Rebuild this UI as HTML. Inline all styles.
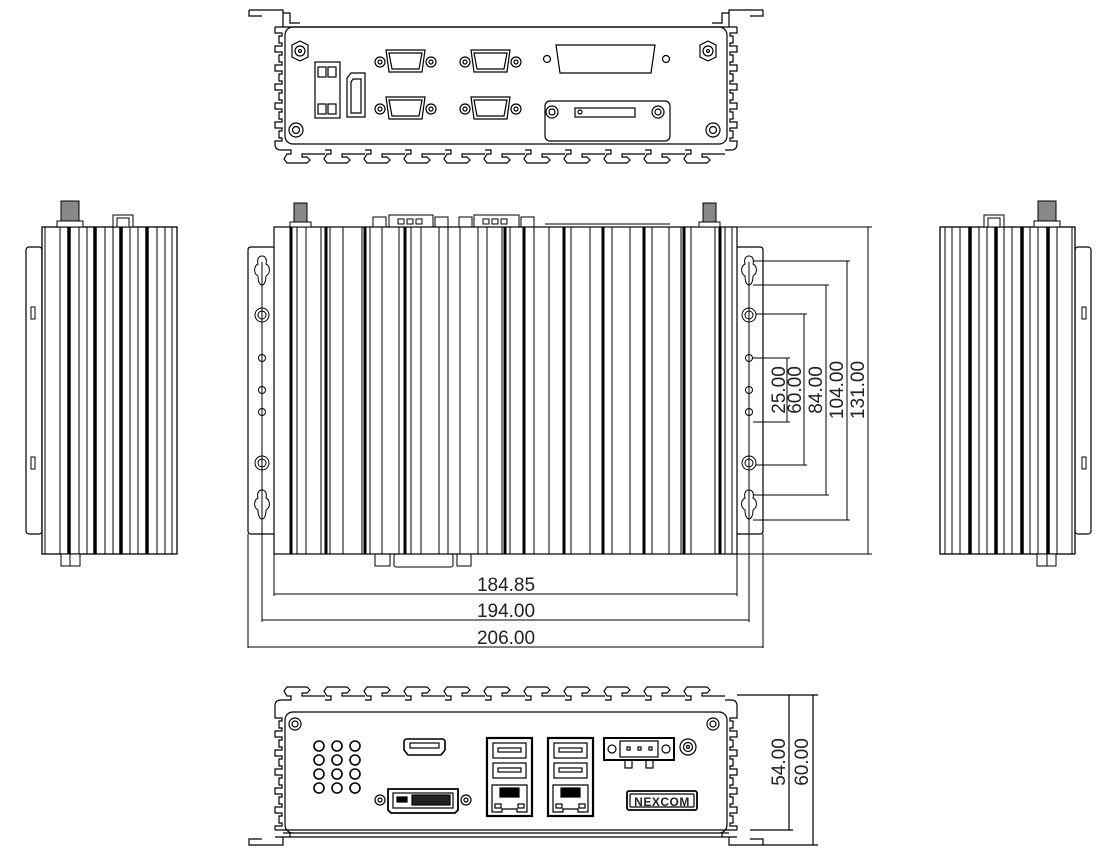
<!DOCTYPE html>
<html><head><meta charset="utf-8"><style>
html,body{margin:0;padding:0;background:#fff}
svg{display:block}
text{font-family:"Liberation Sans",sans-serif;fill:#222}
</style></head><body>
<svg width="1101" height="851" viewBox="0 0 1101 851" xmlns="http://www.w3.org/2000/svg">
<defs>
<g id="side">
  <rect x="26" y="247" width="16" height="287" rx="3" fill="none" stroke="#000" stroke-width="1.2"/>
  <rect x="42" y="227" width="135" height="327" fill="#fff" stroke="#000" stroke-width="1.3"/>
  <line x1="45" y1="227" x2="45" y2="554" stroke="#000"/>
  <g stroke="#000" stroke-width="1">
    <line x1="60" y1="227" x2="60" y2="554"/><line x1="79" y1="227" x2="79" y2="554"/>
    <line x1="87" y1="227" x2="87" y2="554"/><line x1="105" y1="227" x2="105" y2="554"/>
    <line x1="113" y1="227" x2="113" y2="554"/><line x1="130" y1="227" x2="130" y2="554"/>
    <line x1="138" y1="227" x2="138" y2="554"/><line x1="157" y1="227" x2="157" y2="554"/>
    <line x1="165" y1="227" x2="165" y2="554"/><line x1="172" y1="227" x2="172" y2="554"/>
  </g>
  <g stroke="#000" stroke-width="3.5">
    <line x1="69" y1="227" x2="69" y2="554"/><line x1="95" y1="227" x2="95" y2="554"/>
    <line x1="121" y1="227" x2="121" y2="554"/><line x1="147" y1="227" x2="147" y2="554"/>
  </g>
  <rect x="61" y="201" width="18" height="21" fill="#888" stroke="#000"/>
  <rect x="57" y="221" width="26" height="6" fill="#fff" stroke="#000"/>
  <rect x="113" y="215" width="20" height="12" fill="#fff" stroke="#000"/>
  <rect x="117" y="218" width="12" height="9" fill="#fff" stroke="#000"/>
  <rect x="61" y="554" width="19" height="12" fill="#fff" stroke="#000"/>
  <line x1="70" y1="554" x2="70" y2="566" stroke="#000"/>
  <rect x="31" y="307" width="4" height="12" fill="none" stroke="#000"/>
  <rect x="31" y="457" width="4" height="12" fill="none" stroke="#000"/>
</g>
<path id="fin" d="M0,0 h6 v4 h-4 l-3,5 l3,4 h20 l3,-3 l-3,-3 h-5 v-3 h23" fill="none" stroke="#000" stroke-width="1.2"/>
<path id="notch" d="M0,0 v3 h7 v3 h-3 v7 h3 v3 h-7 v3" fill="none" stroke="#000" stroke-width="1.2"/>
<g id="fins">
  <use href="#fin" x="285"/><use href="#fin" x="325"/><use href="#fin" x="365"/><use href="#fin" x="405"/>
  <use href="#fin" x="445"/><use href="#fin" x="485"/><use href="#fin" x="525"/><use href="#fin" x="565"/>
  <use href="#fin" x="605"/><use href="#fin" x="645"/><use href="#fin" x="685"/>
</g>
<g id="notches">
  <use href="#notch" y="30"/><use href="#notch" y="49"/><use href="#notch" y="68"/>
  <use href="#notch" y="87"/><use href="#notch" y="106"/><use href="#notch" y="125"/>
</g>
</defs>

<use href="#side"/>
<use href="#side" transform="translate(1117,0) scale(-1,1)"/>

<!-- ===== TOP (rear panel) VIEW ===== -->
<g fill="none" stroke="#000" stroke-width="1.2">
  <path d="M249,10 H283 V27 M249,10 V16 H262 M283,13 H290 V23 H300"/>
  <path d="M763,10 H729 V27 M763,10 V16 H750 M729,13 H722 V23 H712"/>
  <line x1="275" y1="27" x2="737" y2="27"/>
  <rect x="285" y="27" width="442" height="117" rx="8"/>
  <path d="M275,27 V30 M275,144 Q275,150 281,150 H285 M737,27 V30 M737,144 Q737,150 731,150 H725"/>
</g>
<g transform="translate(275,0)"><use href="#notches"/></g>
<g transform="translate(737,0) scale(-1,1)"><use href="#notches"/></g>
<g transform="translate(0,150)"><use href="#fins"/></g>
<g fill="none" stroke="#000" stroke-width="1.2">
  <polygon points="292,45 300,41 308,45 308,57 300,61 292,57"/><circle cx="300" cy="51" r="5"/><circle cx="300" cy="51" r="1.5"/>
  <polygon points="700,45 708,41 716,45 716,57 708,61 700,57"/><circle cx="708" cy="51" r="5"/><circle cx="708" cy="51" r="1.5"/>
  <circle cx="296" cy="130" r="7"/><circle cx="296" cy="130" r="3.5"/>
  <circle cx="713" cy="130" r="7"/><circle cx="713" cy="130" r="3.5"/>
  <rect x="315" y="62" width="25" height="56"/>
  <rect x="318" y="67" width="8" height="10"/><rect x="328" y="67" width="8" height="10"/>
  <rect x="318" y="104" width="8" height="10"/><rect x="328" y="104" width="8" height="10"/>
  <path d="M347,78 l4,-5 h14 v44 h-18 z"/><path d="M351,82 l2,-3 h8 v34 h-10 z"/>
  <g id="db9">
    <circle cx="380" cy="62" r="5"/><circle cx="380" cy="62" r="2"/>
    <circle cx="431" cy="62" r="5"/><circle cx="431" cy="62" r="2"/>
    <path d="M386,50 h39 l-3,22 h-33 z"/><path d="M389,53 h33 l-3,16 h-27 z"/>
  </g>
  <use href="#db9" x="85"/><use href="#db9" y="47"/><use href="#db9" x="85" y="47"/>
  <circle cx="547" cy="59" r="3.5"/><circle cx="666" cy="59" r="3.5"/>
  <path d="M556,45 h99 l-4,28 h-91 z"/>
  <rect x="545" y="101" width="125" height="40" rx="5"/>
  <circle cx="552" cy="112" r="6"/><circle cx="552" cy="112" r="3"/>
  <circle cx="658" cy="112" r="6"/><circle cx="658" cy="112" r="3"/>
  <rect x="575" y="108" width="60" height="9"/><circle cx="580" cy="112" r="2"/>
</g>

<!-- ===== MAIN VIEW ===== -->
<g fill="none" stroke="#000" stroke-width="1.2">
  <path d="M274,247 H251 Q248,247 248,250 V531 Q248,534 251,534 H274"/>
  <path d="M737,247 H760 Q763,247 763,250 V531 Q763,534 760,534 H737"/>
  <rect x="274" y="227" width="463" height="327"/>
</g>
<g stroke="#000" stroke-width="1">
  <line x1="297" y1="227" x2="297" y2="554"/><line x1="306" y1="227" x2="306" y2="554"/>
  <line x1="321" y1="227" x2="321" y2="554"/><line x1="330" y1="227" x2="330" y2="554"/>
  <line x1="343" y1="227" x2="343" y2="554"/><line x1="362" y1="227" x2="362" y2="554"/>
  <line x1="370" y1="227" x2="370" y2="554"/><line x1="382" y1="227" x2="382" y2="554"/>
  <line x1="399" y1="227" x2="399" y2="554"/><line x1="411" y1="227" x2="411" y2="554"/>
  <line x1="421" y1="227" x2="421" y2="554"/><line x1="439" y1="227" x2="439" y2="554"/>
  <line x1="448" y1="227" x2="448" y2="554"/><line x1="460" y1="227" x2="460" y2="554"/>
  <line x1="478" y1="227" x2="478" y2="554"/><line x1="487" y1="227" x2="487" y2="554"/>
  <line x1="502" y1="227" x2="502" y2="554"/><line x1="510" y1="227" x2="510" y2="554"/>
  <line x1="534" y1="227" x2="534" y2="554"/><line x1="549" y1="227" x2="549" y2="554"/>
  <line x1="571" y1="227" x2="571" y2="554"/><line x1="590" y1="227" x2="590" y2="554"/>
  <line x1="612" y1="227" x2="612" y2="554"/><line x1="630" y1="227" x2="630" y2="554"/>
  <line x1="652" y1="227" x2="652" y2="554"/><line x1="669" y1="227" x2="669" y2="554"/>
  <line x1="681" y1="227" x2="681" y2="554"/><line x1="691" y1="227" x2="691" y2="554"/>
  <line x1="715" y1="227" x2="715" y2="554"/><line x1="725" y1="227" x2="725" y2="554"/>
  <line x1="732" y1="227" x2="732" y2="554"/>
</g>
<g stroke="#000" stroke-width="3">
  <line x1="291" y1="227" x2="291" y2="554"/><line x1="326" y1="227" x2="326" y2="554"/>
  <line x1="365" y1="227" x2="365" y2="554"/><line x1="405" y1="227" x2="405" y2="554"/>
  <line x1="505" y1="227" x2="505" y2="554"/><line x1="524" y1="227" x2="524" y2="554"/>
  <line x1="564" y1="227" x2="564" y2="554"/><line x1="603" y1="227" x2="603" y2="554"/>
  <line x1="644" y1="227" x2="644" y2="554"/><line x1="684" y1="227" x2="684" y2="554"/>
  <line x1="720" y1="227" x2="720" y2="554"/>
</g>
<g fill="none" stroke="#000" stroke-width="1">
  <rect x="294" y="203" width="13" height="19" fill="#888"/><rect x="290" y="222" width="21" height="5" fill="#fff"/>
  <rect x="703" y="203" width="13" height="19" fill="#888"/><rect x="699" y="222" width="21" height="5" fill="#fff"/>
  <rect x="373" y="217" width="13" height="10"/><rect x="389" y="215" width="44" height="12"/><rect x="435" y="217" width="13" height="10"/>
  <rect x="398" y="219" width="6" height="5"/><rect x="407" y="219" width="6" height="5"/><rect x="416" y="219" width="6" height="5"/>
  <rect x="459" y="217" width="13" height="10"/><rect x="474" y="215" width="45" height="12"/><rect x="521" y="217" width="13" height="10"/>
  <rect x="483" y="219" width="6" height="5"/><rect x="492" y="219" width="6" height="5"/><rect x="501" y="219" width="6" height="5"/>
  <line x1="545" y1="224" x2="670" y2="224"/>
  <rect x="375" y="554" width="15" height="12"/><rect x="394" y="554" width="59" height="13" rx="2"/><rect x="457" y="554" width="14" height="12"/>
  <path d="M262,256 c-4,0 -5,4 -4,8 c-4,2 -5,9 0,12 c0,6 2,9 4,9 c2,0 4,-3 4,-9 c5,-3 4,-10 0,-12 c1,-4 0,-8 -4,-8 z"/>
  <path d="M262,490 c-4,0 -5,4 -4,8 c-4,2 -5,9 0,12 c0,6 2,9 4,9 c2,0 4,-3 4,-9 c5,-3 4,-10 0,-12 c1,-4 0,-8 -4,-8 z"/>
  <circle cx="262" cy="315" r="7"/><circle cx="262" cy="315" r="4"/>
  <circle cx="262" cy="463" r="7"/><circle cx="262" cy="463" r="4"/>
  <circle cx="262" cy="358" r="3.5"/><circle cx="262" cy="390" r="3.5"/><circle cx="262" cy="412" r="3.5"/>
  <path d="M749,256 c-4,0 -5,4 -4,8 c-4,2 -5,9 0,12 c0,6 2,9 4,9 c2,0 4,-3 4,-9 c5,-3 4,-10 0,-12 c1,-4 0,-8 -4,-8 z"/>
  <path d="M749,490 c-4,0 -5,4 -4,8 c-4,2 -5,9 0,12 c0,6 2,9 4,9 c2,0 4,-3 4,-9 c5,-3 4,-10 0,-12 c1,-4 0,-8 -4,-8 z"/>
  <circle cx="749" cy="315" r="7"/><circle cx="749" cy="315" r="4"/>
  <circle cx="749" cy="463" r="7"/><circle cx="749" cy="463" r="4"/>
  <circle cx="749" cy="358" r="3.5"/><circle cx="749" cy="390" r="3.5"/><circle cx="749" cy="412" r="3.5"/>
  <line x1="262" y1="262" x2="262" y2="622"/><line x1="749" y1="262" x2="749" y2="622"/>
  <line x1="248" y1="534" x2="248" y2="648"/><line x1="763" y1="534" x2="763" y2="648"/>
  <line x1="274" y1="554" x2="274" y2="596"/><line x1="737" y1="554" x2="737" y2="596"/>
  <line x1="274" y1="594" x2="737" y2="594"/>
  <line x1="262" y1="620" x2="749" y2="620"/>
  <line x1="248" y1="647" x2="763" y2="647"/>
  <line x1="737" y1="227" x2="872" y2="227"/><line x1="737" y1="554" x2="872" y2="554"/>
  <line x1="753" y1="261" x2="850" y2="261"/><line x1="753" y1="520" x2="850" y2="520"/>
  <line x1="753" y1="285" x2="829" y2="285"/><line x1="753" y1="495" x2="829" y2="495"/>
  <line x1="756" y1="314" x2="807" y2="314"/><line x1="756" y1="465" x2="807" y2="465"/>
  <line x1="753" y1="358" x2="790" y2="358"/><line x1="753" y1="422" x2="790" y2="422"/>
  <line x1="787" y1="358" x2="787" y2="422"/>
  <line x1="804" y1="314" x2="804" y2="465"/>
  <line x1="826" y1="285" x2="826" y2="495"/>
  <line x1="847" y1="261" x2="847" y2="520"/>
  <line x1="868" y1="227" x2="868" y2="554"/>
</g>
<g font-size="19" text-anchor="middle">
  <text x="506" y="591">184.85</text>
  <text x="506" y="617">194.00</text>
  <text x="506" y="644">206.00</text>
  <text transform="translate(785,390) rotate(-90)">25.00</text>
  <text transform="translate(801,390) rotate(-90)">60.00</text>
  <text transform="translate(822,390) rotate(-90)">84.00</text>
  <text transform="translate(843,390) rotate(-90)">104.00</text>
  <text transform="translate(864,390) rotate(-90)">131.00</text>
  <text transform="translate(785,762) rotate(-90)">54.00</text>
  <text transform="translate(808,762) rotate(-90)">60.00</text>
</g>

<!-- ===== BOTTOM (front panel) VIEW ===== -->
<g transform="translate(0,700) scale(1,-1)"><use href="#fins"/></g>
<g transform="translate(275,685)"><use href="#notches"/></g>
<g transform="translate(737,685) scale(-1,1)"><use href="#notches"/></g>
<g fill="none" stroke="#000" stroke-width="1.2">
  <path d="M285,700 H281 Q275,700 275,706 V715 M275,829 V830 M725,700 H731 Q737,700 737,706 V715 M737,829 V830"/>
  <rect x="285" y="712" width="442" height="121" rx="8"/>
  <line x1="275" y1="830" x2="737" y2="830"/><line x1="275" y1="837" x2="737" y2="837"/>
  <path d="M283,837 V845 H249 V839 H262 M283,833 H290 V837"/>
  <path d="M729,837 V845 H763 V839 H750 M729,833 H722 V837"/>
  <line x1="737" y1="695" x2="818" y2="695"/><line x1="750" y1="830" x2="793" y2="830"/><line x1="763" y1="845" x2="818" y2="845"/>
  <line x1="789" y1="695" x2="789" y2="830"/><line x1="813" y1="695" x2="813" y2="845"/>
  <circle cx="295" cy="724" r="6"/><circle cx="295" cy="724" r="3"/>
  <circle cx="713" cy="724" r="6"/><circle cx="713" cy="724" r="3"/>
  <g stroke-width="1.6">
  <circle cx="319" cy="746" r="5"/><circle cx="337" cy="746" r="5"/><circle cx="355" cy="746" r="5"/>
  <circle cx="319" cy="760" r="5"/><circle cx="337" cy="760" r="5"/><circle cx="355" cy="760" r="5"/>
  <circle cx="319" cy="774" r="5"/><circle cx="337" cy="774" r="5"/><circle cx="355" cy="774" r="5"/>
  <circle cx="319" cy="788" r="5"/><circle cx="337" cy="788" r="5"/><circle cx="355" cy="788" r="5"/>
  </g>
  <path d="M407,739 h35 q3,0 3,3 v8 l-4,5 h-33 l-4,-5 v-8 q0,-3 3,-3 z" stroke-width="1.6"/>
  <rect x="410" y="743" width="29" height="5"/>
  <circle cx="380" cy="800" r="5"/><circle cx="380" cy="800" r="2"/>
  <circle cx="466" cy="800" r="5"/><circle cx="466" cy="800" r="2"/>
  <path d="M388,789 h70 v21 l-3,3 h-64 l-3,-3 z" stroke-width="1.8"/>
  <rect x="393" y="793" width="60" height="15"/>
  <rect x="397" y="797" width="10" height="5" fill="#000"/>
  <rect x="412" y="795" width="38" height="10" fill="#222"/>
  <g id="usb" stroke-width="1.2">
    <rect x="487" y="738" width="45" height="78" stroke-width="2.2"/>
    <rect x="493" y="743" width="33" height="15"/><rect x="498" y="748" width="23" height="4"/>
    <rect x="493" y="763" width="33" height="15"/><rect x="498" y="768" width="23" height="4"/>
    <path d="M492,785 h35 v27 h-10 v-3 h-15 v3 h-10 z"/>
    <rect x="500" y="788" width="19" height="9" fill="#000"/>
    <rect x="495" y="804" width="6" height="4"/><rect x="518" y="804" width="6" height="4"/>
  </g>
  <use href="#usb" x="61"/>
  <rect x="604" y="738" width="70" height="22" stroke-width="2"/>
  <circle cx="612" cy="749" r="4"/><circle cx="666" cy="749" r="4"/>
  <rect x="620" y="741" width="38" height="16"/>
  <rect x="627" y="747" width="3" height="3"/><rect x="638" y="747" width="3" height="3"/><rect x="649" y="747" width="3" height="3"/>
  <rect x="625" y="760" width="7" height="8"/><rect x="646" y="760" width="7" height="8"/>
  <circle cx="688" cy="747" r="8"/><circle cx="688" cy="747" r="4.5"/><circle cx="688" cy="747" r="1.5"/>
  <rect x="627" y="791" width="70" height="19" rx="2" stroke-width="1.8"/>
  <rect x="630" y="794" width="64" height="13" rx="1"/>
</g>
<text x="662" y="806" font-size="12" font-weight="bold" text-anchor="middle" style="letter-spacing:0.5px">NEXCOM</text>
</svg>
</body></html>
